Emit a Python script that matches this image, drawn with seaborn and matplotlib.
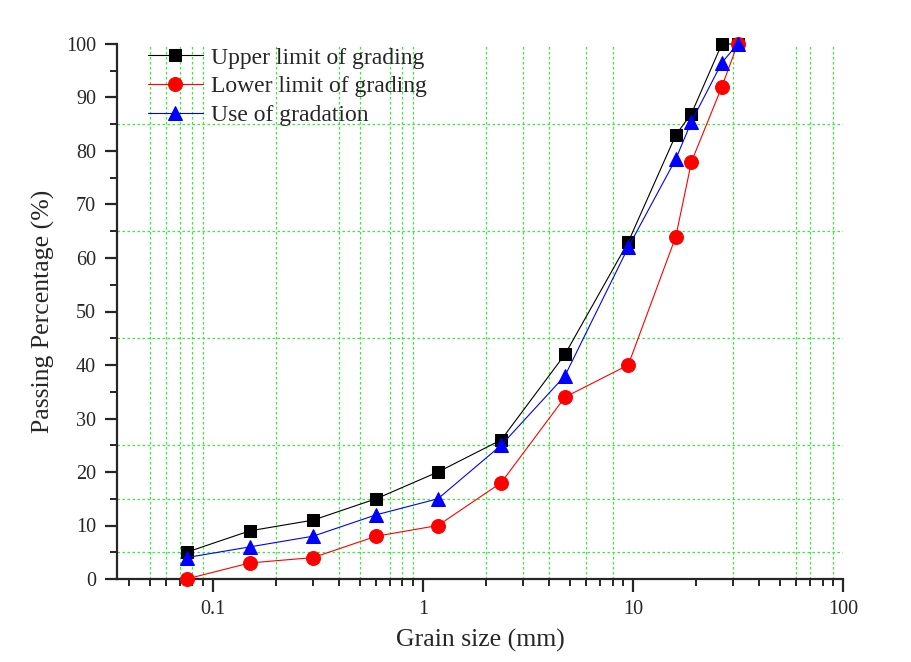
import matplotlib
matplotlib.use("Agg")
import matplotlib.pyplot as plt
import seaborn as sns
import pandas as pd
import numpy as np
from matplotlib.ticker import LogLocator, FixedLocator, NullFormatter, FuncFormatter

sieve_mm = [0.075, 0.15, 0.3, 0.6, 1.18, 2.36, 4.75, 9.5, 16, 19, 26.5, 31.5]
upper = [5, 9, 11, 15, 20, 26, 42, 63, 83, 87, 100, 100]
lower = [0, 3, 4, 8, 10, 18, 34, 40, 64, 78, 92, 100]
used = [4, 6, 8, 12, 15, 25, 38, 62, 78.5, 85.5, 96.5, 100]
series_names = ["Upper limit of grading", "Lower limit of grading", "Use of gradation"]

sns.set_style("ticks")
plt.rcParams['font.family'] = ['Liberation Serif', 'DejaVu Serif']
plt.rcParams['mathtext.fontset'] = 'stix'

fig = plt.figure(figsize=(9.12, 6.62), dpi=100)
ax = fig.add_axes([117/912, 1 - 579/662, (843-117)/912, (579-44)/662])

# visible grid lines of the reference
vgrid = [0.05, 0.06, 0.07, 0.08, 0.09, 0.2, 0.4, 0.5, 0.7, 0.8, 0.9, 2, 3, 4, 6, 8, 30, 60, 70, 90]
hgrid = [5, 15, 25, 45, 65, 85]
for v in vgrid:
    ax.axvline(v, color='#33ee33', lw=0.9, ls=(0, (2, 2)), zorder=0)
for h in hgrid:
    ax.axhline(h, color='#33ee33', lw=0.9, ls=(0, (2, 2)), zorder=0)

df = pd.DataFrame({"size": sieve_mm, series_names[0]: upper,
                   series_names[1]: lower, series_names[2]: used})
styles = [("black", "s", 8.5), ("red", "o", 10), ("blue", "^", 10)]
for name, (col, mk, ms) in zip(series_names, styles):
    sns.lineplot(data=df, x="size", y=name, ax=ax, color=col, marker=mk,
                 markersize=ms, markeredgecolor=col, linewidth=0.8,
                 label=name, zorder=3, clip_on=False)

ax.set_xscale('log')
ax.set_xlim(0.035, 100)
ax.set_ylim(0, 100)
ax.set_yticks(np.arange(0, 101, 10))
ax.yaxis.set_minor_locator(FixedLocator(np.arange(5, 100, 10)))
ax.xaxis.set_major_locator(FixedLocator([0.1, 1, 10, 100]))
ax.xaxis.set_major_formatter(FuncFormatter(lambda v, p: f"{v:g}"))
ax.xaxis.set_minor_locator(LogLocator(base=10, subs=np.arange(2, 10), numticks=20))
ax.xaxis.set_minor_formatter(NullFormatter())

for s in ['top', 'right']:
    ax.spines[s].set_visible(False)
for s in ['left', 'bottom']:
    ax.spines[s].set_linewidth(1.6)
ax.tick_params(which='major', direction='out', length=9, width=1.6, labelsize=14.5, pad=6)
ax.tick_params(which='minor', direction='out', length=5, width=1.4)

ax.set_xlabel("Grain size (mm)", fontsize=18.5, labelpad=7)
ax.set_ylabel("Passing Percentage (%)", fontsize=18.5, labelpad=8)

leg = ax.legend(loc='upper left', bbox_to_anchor=(0.03, 1.012), frameon=False,
                fontsize=17, handlelength=2.3, handletextpad=0.35, labelspacing=0.3,
                borderaxespad=0)

fig.savefig("out.png", dpi=100)
